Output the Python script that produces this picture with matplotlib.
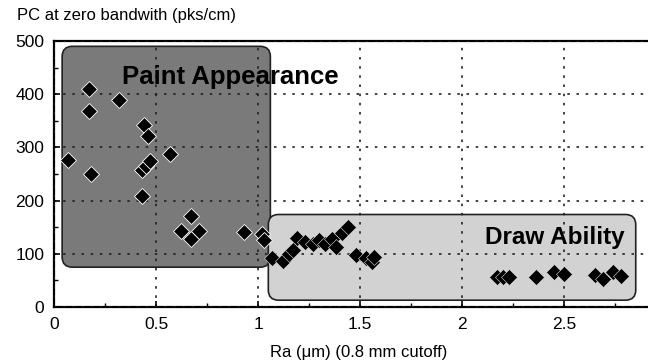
import numpy as np
import matplotlib
matplotlib.use('Agg')
import matplotlib.pyplot as plt
from matplotlib.patches import FancyBboxPatch

plt.rcParams['font.family'] = ['Liberation Sans', 'DejaVu Sans']

# data
paint_ra = [0.07, 0.17, 0.17, 0.18, 0.32, 0.44, 0.46, 0.43, 0.45, 0.47, 0.43, 0.57,
            0.67, 0.62, 0.67, 0.71, 0.93, 1.02, 1.03]
paint_pc = [277, 409, 368, 251, 389, 343, 321, 257, 266, 274, 208, 288,
            171, 143, 128, 143, 142, 138, 127]
draw_ra = [1.07, 1.12, 1.15, 1.17, 1.19, 1.23, 1.27, 1.30, 1.33, 1.36, 1.38, 1.41, 1.44,
           1.48, 1.53, 1.56, 1.57,
           2.17, 2.20, 2.23, 2.36, 2.45, 2.50, 2.65, 2.69, 2.74, 2.78]
draw_pc = [92, 87, 100, 108, 130, 122, 118, 127, 118, 128, 112, 140, 151,
           98, 92, 85, 94,
           57, 57, 57, 57, 66, 62, 60, 53, 66, 58]

xticks = [0, 0.5, 1, 1.5, 2, 2.5]
xtick_labels = ['0', '0.5', '1', '1.5', '2', '2.5']
yticks = [0, 100, 200, 300, 400, 500]

fig = plt.figure(figsize=(6.48, 3.63), dpi=100)
ax = fig.add_axes([0.0833, 0.154, 0.9167, 0.733])

# rounded shaded regions
asp = (100 / 53.0) / (1 / 204.0)
ax.add_patch(FancyBboxPatch((0.04, 75), 1.02, 415,
                            boxstyle='round,pad=0,rounding_size=0.05',
                            mutation_aspect=asp, transform=ax.transData,
                            facecolor='#7a7a7a', edgecolor='#222222', lw=1.2, zorder=1))
ax.add_patch(FancyBboxPatch((1.05, 13), 1.80, 161,
                            boxstyle='round,pad=0,rounding_size=0.05',
                            mutation_aspect=asp, transform=ax.transData,
                            facecolor='#d2d2d2', edgecolor='#222222', lw=1.2, zorder=1))

ax.plot(paint_ra, paint_pc, 'D', color='black', ms=8.5, mec='white', mew=0.6, zorder=3)
ax.plot(draw_ra, draw_pc, 'D', color='black', ms=8.5, mec='#dddddd', mew=0.4, zorder=3)

ax.text(0.335, 432, 'Paint Appearance', fontsize=18.5, fontweight='bold', va='center', zorder=4)
ax.text(2.11, 130, 'Draw Ability', fontsize=17.5, fontweight='bold', va='center', zorder=4)

ax.set_xticks(xticks)
ax.set_xticklabels(xtick_labels)
ax.set_yticks(yticks)
ax.set_xticks(np.arange(0.25, 2.9, 0.5), minor=True)
ax.set_yticks(np.arange(50, 500, 100), minor=True)
ax.set_xlim(0, 2.91)
ax.set_ylim(0, 500)

ax.set_axisbelow(False)
ax.grid(True, linestyle=(0, (1.5, 4)), color='#222222', linewidth=1.2)
for gl in ax.get_xgridlines() + ax.get_ygridlines():
    gl.set_zorder(2)

ax.tick_params(direction='in', length=4, width=1.2, labelsize=12.5, pad=7)
ax.tick_params(which='minor', direction='in', length=3, width=1)
for s in ['left', 'bottom', 'top']:
    ax.spines[s].set_linewidth(1.6)
ax.spines['right'].set_visible(False)

fig.text(0.026, 0.958, 'PC at zero bandwith (pks/cm)', fontsize=12, va='center')
fig.text(0.554, 0.03, 'Ra (\u03bcm) (0.8 mm cutoff)', fontsize=12, ha='center', va='center')

fig.savefig('out.png', dpi=100)
